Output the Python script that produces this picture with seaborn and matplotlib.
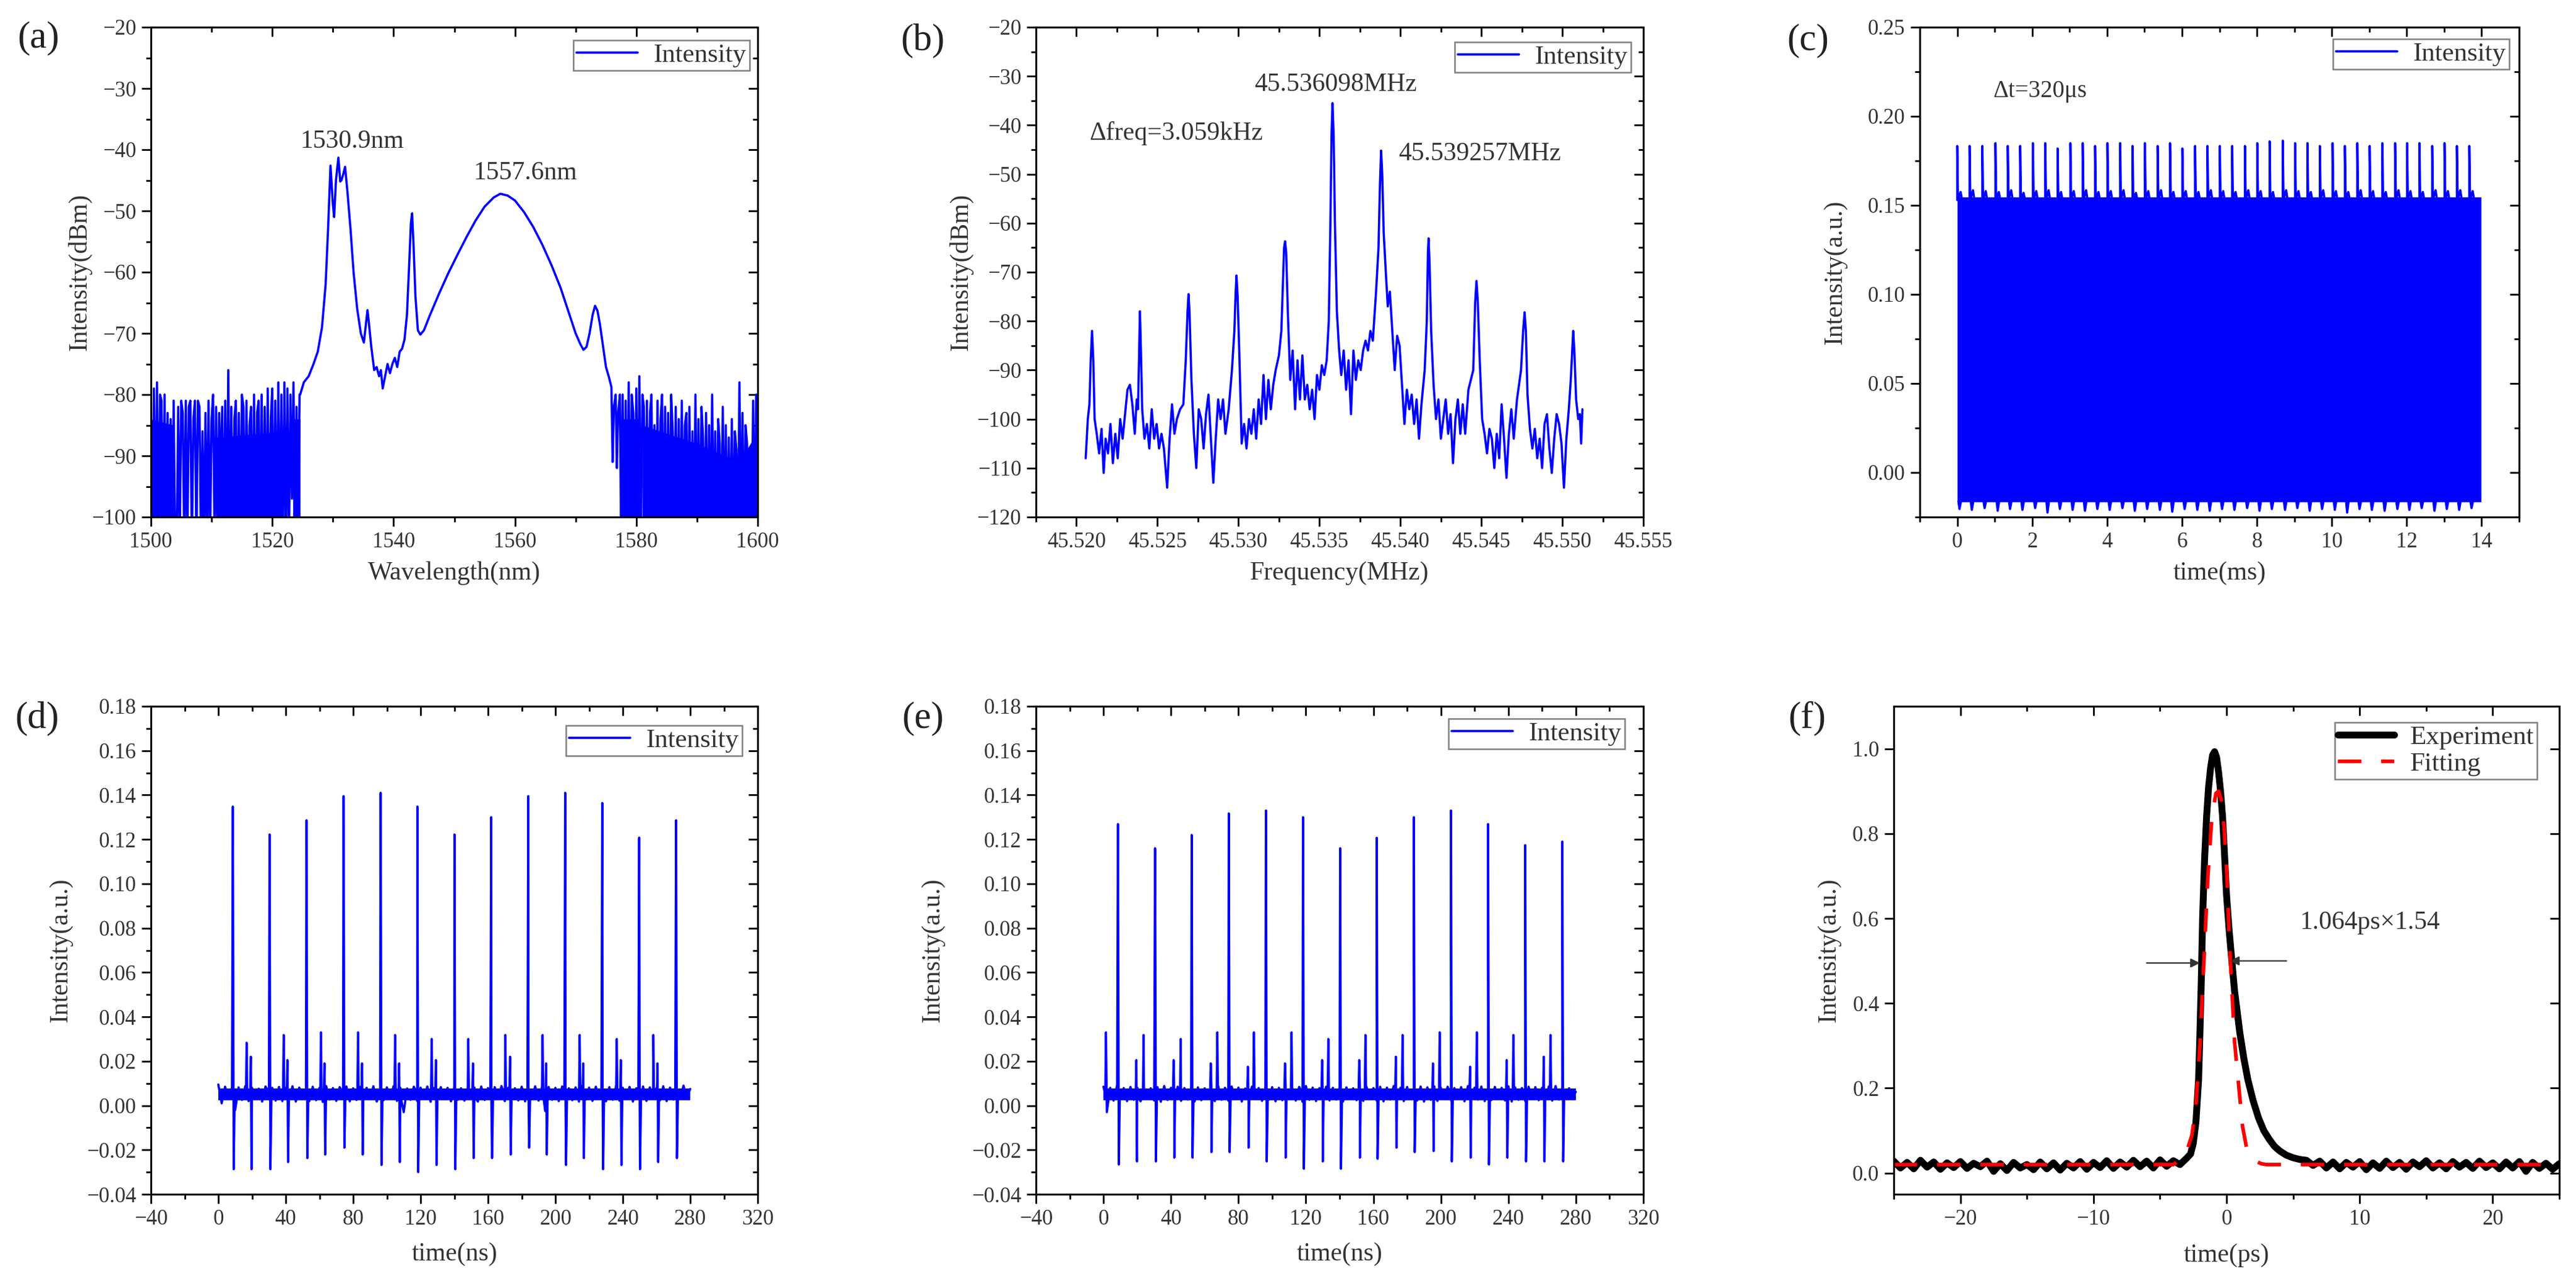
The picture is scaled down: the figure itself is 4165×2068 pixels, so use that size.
import numpy as np
import matplotlib
matplotlib.use("Agg")
import matplotlib.pyplot as plt
import seaborn as sns
from matplotlib.ticker import MultipleLocator, FuncFormatter

# ======================= DATA =======================
# ---- (a) optical spectrum ----
A_NOISE_STEP = 0.25
A_NOISE_L_START = 1500.0
A_NOISE_L = [-82, -105, -79, -105, -78, -105, -80, -81, -105, -80,
             -105, -83, -105, -84, -105, -81, -105, -105, -82, -105,
             -81, -83, -105, -81, -105, -82, -81, -105, -84, -81,
             -105, -81, -82, -105, -86, -105, -83, -105, -81, -105,
             -84, -80, -105, -82, -105, -83, -95, -82, -105, -81,
             -105, -76, -105, -82, -105, -84, -81, -105, -83, -105,
             -80, -82, -105, -81, -105, -85, -82, -105, -80, -105,
             -83, -81, -105, -80, -105, -82, -105, -79, -105, -84,
             -79, -105, -81, -105, -78, -105, -80, -105, -78, -105,
             -79, -105, -80, -97, -78, -105, -82, -105, -80]
A_FILL_L_X = [1500.0, 1503.8, 1503.8, 1510.8, 1510.8, 1521.9, 1521.9, 1523.4, 1523.4, 1524.6]
A_FILL_L_Y = [-84, -85, -100, -100, -87, -86, -100, -100, -84, -84]
A_MID_WL = [1524.6, 1525.2, 1526.0, 1526.8, 1527.5, 1528.2, 1528.8, 1529.2, 1529.6, 1530.0,
            1530.2, 1530.5, 1530.9, 1531.2, 1531.4, 1531.7, 1532.0, 1532.4, 1532.9, 1533.4,
            1534.0, 1534.6, 1535.1, 1535.5, 1535.7, 1535.9, 1536.3, 1536.8, 1537.2, 1537.6,
            1537.9, 1538.2, 1538.6, 1539.0, 1539.4, 1539.8, 1540.2, 1540.6, 1541.0, 1541.4,
            1541.8, 1542.2, 1542.6, 1542.85, 1543.05, 1543.3, 1543.6, 1544.0, 1544.4, 1545.0,
            1546.0, 1547.5, 1549.0, 1550.5, 1552.0, 1553.5, 1555.0, 1556.5, 1557.6, 1558.8,
            1560.0, 1561.5, 1563.0, 1564.5, 1566.0, 1567.5, 1569.0, 1570.0, 1570.8, 1571.3,
            1571.8, 1572.3, 1572.8, 1573.2, 1573.6, 1574.0, 1574.5, 1575.0, 1575.5, 1575.9,
            1576.1, 1576.3, 1576.6, 1576.8, 1577.0, 1577.3]
A_MID_DB = [-80, -78, -77, -75, -73, -69, -62, -53, -42.6, -49,
            -51, -45, -41.3, -45.2, -45, -44, -42.8, -47, -53, -60,
            -66, -70, -71.5, -68, -66.2, -68, -72, -76, -75.5, -77,
            -76, -79, -77, -75, -76.5, -75, -74, -75.5, -73, -72.5,
            -71, -67, -58, -52, -50.4, -56, -64, -69.5, -70.2, -69.5,
            -67, -63.5, -60.2, -57.2, -54.3, -51.6, -49.3, -47.8, -47.2, -47.5,
            -48.3, -50.2, -52.6, -55.5, -58.8, -62.5, -67, -70, -71.8, -72.7,
            -72.2, -70, -67, -65.5, -66.3, -68.5, -72, -75.5, -77.2, -78.8,
            -91, -82, -80, -92, -83, -80]
A_NOISE_R_START = 1577.5
A_NOISE_R = [-105, -80, -105, -81, -105, -78, -105, -80, -83, -105,
             -79, -105, -77, -105, -80, -82, -105, -81, -105, -83,
             -80, -105, -85, -105, -81, -105, -84, -80, -105, -82,
             -105, -83, -105, -80, -86, -105, -82, -105, -84, -105,
             -81, -105, -85, -83, -105, -82, -105, -86, -105, -80,
             -105, -84, -105, -82, -87, -105, -83, -105, -85, -105,
             -80, -105, -86, -105, -84, -88, -105, -82, -105, -85,
             -105, -87, -105, -84, -105, -86, -89, -105, -78, -105,
             -83, -105, -85, -88, -105, -90, -105, -81, -105, -80,
             -105]
A_FILL_R_X = [1577.6, 1580.5, 1580.5, 1581.0, 1581.0, 1590.0, 1597.0, 1600.0]
A_FILL_R_Y = [-84, -84, -100, -100, -85, -88, -91, -86]
A_TEXT = ["1530.9nm", "1557.6nm"]
A_TEXT_X = [1524.6, 1553.1]
A_TEXT_Y = [-38.7, -43.8]

# ---- (b) RF spectrum ----
B_FREQ = [45.52057, 45.52070, 45.52080, 45.52088, 45.52096, 45.52104, 45.52112, 45.52125, 45.52140, 45.52155,
          45.52168, 45.52180, 45.52195, 45.52210, 45.52225, 45.52240, 45.52255, 45.52270, 45.52285, 45.52300,
          45.52315, 45.52330, 45.52345, 45.52360, 45.52372, 45.52380, 45.52387, 45.52392, 45.52398, 45.52406,
          45.52420, 45.52435, 45.52450, 45.52465, 45.52480, 45.52495, 45.52510, 45.52525, 45.52540, 45.52560,
          45.52575, 45.52590, 45.52605, 45.52620, 45.52640, 45.52660, 45.52675, 45.52686, 45.52692, 45.52698,
          45.52710, 45.52725, 45.52740, 45.52755, 45.52770, 45.52785, 45.52800, 45.52815, 45.52830, 45.52845,
          45.52860, 45.52875, 45.52890, 45.52905, 45.52920, 45.52940, 45.52960, 45.52975, 45.52983, 45.52988,
          45.52995, 45.53005, 45.53020, 45.53035, 45.53050, 45.53065, 45.53080, 45.53095, 45.53110, 45.53125,
          45.53140, 45.53155, 45.53170, 45.53185, 45.53200, 45.53215, 45.53230, 45.53250, 45.53265, 45.53275,
          45.53282, 45.53288, 45.53295, 45.53305, 45.53320, 45.53335, 45.53350, 45.53365, 45.53380, 45.53395,
          45.53410, 45.53425, 45.53440, 45.53455, 45.53470, 45.53485, 45.53500, 45.53515, 45.53530, 45.53545,
          45.53558, 45.53568, 45.53575, 45.53581, 45.53588, 45.53596, 45.53608, 45.53622, 45.53635, 45.53650,
          45.53665, 45.53680, 45.53695, 45.53710, 45.53725, 45.53740, 45.53755, 45.53770, 45.53785, 45.53800,
          45.53815, 45.53830, 45.53850, 45.53865, 45.53874, 45.53881, 45.53888, 45.53897, 45.53910, 45.53922,
          45.53935, 45.53950, 45.53965, 45.53980, 45.53995, 45.54010, 45.54025, 45.54040, 45.54055, 45.54070,
          45.54085, 45.54100, 45.54115, 45.54130, 45.54150, 45.54163, 45.54170, 45.54174, 45.54180, 45.54190,
          45.54205, 45.54220, 45.54235, 45.54250, 45.54265, 45.54280, 45.54295, 45.54310, 45.54325, 45.54340,
          45.54355, 45.54370, 45.54385, 45.54400, 45.54420, 45.54450, 45.54462, 45.54470, 45.54478, 45.54490,
          45.54505, 45.54520, 45.54535, 45.54550, 45.54565, 45.54580, 45.54595, 45.54610, 45.54625, 45.54640,
          45.54655, 45.54670, 45.54685, 45.54700, 45.54720, 45.54745, 45.54758, 45.54767, 45.54775, 45.54785,
          45.54800, 45.54815, 45.54830, 45.54845, 45.54860, 45.54875, 45.54890, 45.54905, 45.54920, 45.54935,
          45.54950, 45.54965, 45.54980, 45.54995, 45.55010, 45.55025, 45.55040, 45.55052, 45.55061, 45.55067,
          45.55074, 45.55085, 45.55098, 45.55108, 45.55116, 45.55124]
B_DBM = [-108, -100, -97, -88, -82, -88, -100, -103, -107, -102,
         -111, -104, -107, -101, -109, -103, -108, -100, -104, -99,
         -94, -93, -97, -103, -96, -98, -86, -78, -86, -98,
         -104, -101, -106, -98, -104, -101, -106, -103, -106, -114,
         -104, -97, -103, -100, -98, -97, -88, -78, -74.5, -78,
         -92, -103, -110, -98, -100, -106, -99, -95, -104, -113,
         -104, -96, -100, -96, -103, -98, -90, -82, -74, -70.7,
         -75, -86, -105, -101, -106, -100, -103, -98, -104, -96,
         -101, -91, -100, -92, -98, -93, -90, -87, -82, -72,
         -65, -63.7, -66, -78, -92, -86, -98, -88, -96, -87,
         -96, -93, -98, -94, -100, -91, -94, -89, -91, -88,
         -80, -60, -42, -35.5, -42, -60, -78, -86, -91, -86,
         -94, -88, -99, -86, -92, -88, -90, -86, -84, -86,
         -82, -84, -74, -65, -52, -45.2, -50, -62, -70, -77,
         -74, -82, -90, -83, -85, -93, -101, -94, -98, -95,
         -101, -96, -104, -97, -90, -80, -66, -63.1, -68, -82,
         -93, -100, -96, -104, -100, -96, -103, -99, -109, -100,
         -96, -103, -97, -103, -94, -90, -76, -71.8, -76, -88,
         -100, -103, -107, -102, -104, -110, -103, -108, -97, -104,
         -112, -103, -98, -104, -96, -90, -82, -78.2, -82, -95,
         -102, -106, -102, -108, -104, -110, -101, -99, -106, -111,
         -104, -99, -101, -105, -114, -104, -98, -92, -86, -82,
         -86, -96, -100, -99, -105, -98]
B_TEXT = ["45.536098MHz", "45.539257MHz", "\u0394freq=3.059kHz"]
B_TEXT_X = [45.5310, 45.5399, 45.5208]
B_TEXT_Y = [-31.7, -45.9, -41.7]

# ---- (c) long pulse train ----
C_BLOCK_T = [0.0, 14.0]
C_BLOCK_LO = [-0.0165, -0.0165]
C_BLOCK_HI = [0.1545, 0.1545]
C_SPIKE_T = [0.00, 0.33, 0.67, 1.02, 1.35, 1.68, 2.02, 2.35, 2.68, 3.02,
             3.35, 3.68, 4.01, 4.35, 4.68, 5.01, 5.35, 5.68, 6.01, 6.35,
             6.68, 7.01, 7.34, 7.68, 8.01, 8.34, 8.69, 9.02, 9.35, 9.68,
             10.02, 10.35, 10.68, 11.01, 11.35, 11.69, 12.01, 12.34, 12.68, 13.01,
             13.34, 13.67]
C_SPIKE_H = [0.1833, 0.1833, 0.1833, 0.1849, 0.1833, 0.1833, 0.1849, 0.1849, 0.1819, 0.1849,
             0.1849, 0.1833, 0.1849, 0.1849, 0.1833, 0.1849, 0.1833, 0.1849, 0.1819, 0.1833,
             0.1833, 0.1833, 0.1833, 0.1833, 0.1849, 0.1859, 0.1863, 0.1849, 0.1849, 0.1833,
             0.1849, 0.1833, 0.1849, 0.1833, 0.1849, 0.1849, 0.1849, 0.1849, 0.1833, 0.1849,
             0.1833, 0.1833]
C_BUMP_H = [0.1575, 0.1585, 0.1580, 0.1575, 0.1585, 0.1570, 0.1580, 0.1585, 0.1575, 0.1580,
            0.1585, 0.1575, 0.1580, 0.1585, 0.1570, 0.1580, 0.1585, 0.1575, 0.1580, 0.1575,
            0.1585, 0.1580, 0.1575, 0.1585, 0.1580, 0.1575, 0.1585, 0.1580, 0.1575, 0.1585,
            0.1580, 0.1575, 0.1585, 0.1580, 0.1575, 0.1585, 0.1580, 0.1575, 0.1585, 0.1580,
            0.1585, 0.1580]
C_DIP = [-0.0205, -0.0210, -0.0200, -0.0215, -0.0205, -0.0210, -0.0200, -0.0225, -0.0205, -0.0210,
         -0.0215, -0.0205, -0.0210, -0.0200, -0.0215, -0.0205, -0.0210, -0.0220, -0.0205, -0.0210,
         -0.0215, -0.0205, -0.0210, -0.0200, -0.0215, -0.0205, -0.0210, -0.0200, -0.0215, -0.0205,
         -0.0210, -0.0225, -0.0205, -0.0210, -0.0215, -0.0205, -0.0210, -0.0200, -0.0215, -0.0205,
         -0.0210, -0.0200]
C_TEXT = "\u0394t=320\u03bcs"
C_TEXT_X, C_TEXT_Y = 0.95, 0.214

# ---- (d) pulse train ----
D_MAIN_T = [8.6, 30.4, 52.3, 74.3, 96.3, 118.1, 140.1, 161.9, 183.9, 205.8, 227.8, 249.7, 271.6]
D_MAIN_H = [0.1348, 0.1222, 0.1286, 0.1395, 0.1410, 0.1348, 0.1222, 0.1300, 0.1395, 0.1410, 0.1364, 0.1208, 0.1286]
D_MAIN_NEG = [-0.0287, -0.0287, -0.0237, -0.0190, -0.0268, -0.0300, -0.0287, -0.0237, -0.0190, -0.0268, -0.0287, -0.0287, -0.0237]
D_SEC1_T = [16.8, 38.8, 60.9, 82.9, 104.9, 126.6, 148.3, 170.3, 192.4, 214.4, 236.4, 258.1]
D_SEC1_H = [0.0283, 0.0318, 0.0330, 0.0330, 0.0318, 0.0300, 0.0300, 0.0318, 0.0318, 0.0318, 0.0300, 0.0318]
D_SEC2_T = [19.3, 41.0, 63.0, 85.3, 107.3, 129.1, 151.1, 173.1, 194.5, 216.5, 238.8, 260.6]
D_SEC2_H = [0.0220, 0.0205, 0.0190, 0.0190, 0.0190, 0.0205, 0.0190, 0.0220, 0.0190, 0.0190, 0.0205, 0.0190]
D_SEC2_NEG = [-0.0287, -0.0255, -0.0221, -0.0221, -0.0255, -0.0268, -0.0237, -0.0221, -0.0221, -0.0237, -0.0268, -0.0255]
D_BAND_T = [0.0, 280.0]
D_BAND_LO = [0.0024, 0.0024]
D_BAND_HI = [0.0076, 0.0076]
D_BASE = [0.0095, 0.0010, 0.0085, 0.0030, 0.0078, -0.0020, 0.0082, 0.0025, 0.0088, 0.0020,
          0.0080, 0.0030, 0.0076, 0.0018, 0.0086, 0.0028, 0.0080, 0.0022, 0.0084, 0.0020,
          0.0079, 0.0026, 0.0087, 0.0018, 0.0081, 0.0030, 0.0077, 0.0020, 0.0085, 0.0024,
          0.0080, 0.0016, 0.0088, 0.0027, 0.0079, 0.0021, 0.0083, 0.0029, 0.0086, 0.0019,
          0.0078, 0.0025, 0.0084, 0.0020, 0.0080, 0.0028, 0.0087, 0.0018, 0.0079, 0.0024,
          0.0082, 0.0030, 0.0088, 0.0021, 0.0080, -0.0030, 0.0077, 0.0026, 0.0085, 0.0020,
          0.0081, 0.0029, 0.0086, 0.0017, 0.0079, 0.0024, 0.0083, 0.0028, 0.0080, 0.0019,
          0.0087, 0.0026, 0.0078, 0.0022, 0.0084, 0.0030, 0.0081, 0.0018, 0.0086, 0.0025,
          0.0079, 0.0021, 0.0083, 0.0029, 0.0088, 0.0020, 0.0080, 0.0027, 0.0078, 0.0023,
          0.0085, 0.0019, 0.0081, 0.0028, 0.0087, 0.0022, 0.0079, -0.0025, 0.0084, 0.0026,
          0.0080, 0.0020, 0.0086, 0.0029, 0.0078, 0.0024, 0.0082, 0.0018, 0.0088, 0.0027,
          0.0081, 0.0021, 0.0085, 0.0030, 0.0079, 0.0019, 0.0083, 0.0026, 0.0087, 0.0022,
          0.0080, 0.0028, 0.0084, 0.0018, 0.0078, 0.0025, 0.0086, 0.0021, 0.0082, 0.0029,
          0.0079, 0.0023, 0.0087, 0.0020, 0.0081, 0.0027, 0.0085, 0.0030, 0.0090, 0.0035,
          0.0075]

# ---- (e) pulse train ----
E_MAIN_T = [8.6, 30.6, 52.3, 74.3, 96.3, 118.3, 140.3, 162.0, 184.0, 206.0, 228.0, 250.0, 272.0]
E_MAIN_H = [0.1269, 0.1160, 0.1220, 0.1317, 0.1330, 0.1300, 0.1160, 0.1207, 0.1300, 0.1330, 0.1269, 0.1174, 0.1190]
E_MAIN_NEG = [-0.0266, -0.0252, -0.0235, -0.0210, -0.0252, -0.0285, -0.0285, -0.0240, -0.0210, -0.0252, -0.0266, -0.0252, -0.0252]
E_PRE_T = [1.5, 23.8, 45.8, 67.5, 89.2, 111.5, 133.3, 155.3, 177.3, 199.3, 221.3, 243.0, 265.0]
E_PRE_H = [0.0330, 0.0318, 0.0300, 0.0330, 0.0330, 0.0330, 0.0300, 0.0318, 0.0318, 0.0330, 0.0330, 0.0318, 0.0318]
E_SEC_T = [19.5, 41.6, 63.6, 85.6, 107.6, 129.6, 151.6, 173.3, 195.3, 217.3, 239.0, 261.0]
E_SEC_H = [0.0205, 0.0205, 0.0190, 0.0175, 0.0190, 0.0205, 0.0205, 0.0220, 0.0190, 0.0175, 0.0205, 0.0220]
E_SEC_NEG = [-0.0252, -0.0235, -0.0210, -0.0190, -0.0235, -0.0252, -0.0235, -0.0190, -0.0205, -0.0235, -0.0235, -0.0252]
E_BAND_T = [0.0, 280.0]
E_BAND_LO = [0.0024, 0.0024]
E_BAND_HI = [0.0076, 0.0076]
E_BASE = [0.0085, -0.0030, 0.0080, 0.0022, 0.0087, 0.0028, 0.0079, 0.0020, 0.0084, 0.0026,
          0.0081, 0.0019, 0.0086, 0.0029, 0.0078, 0.0023, 0.0083, 0.0017, 0.0088, 0.0025,
          0.0080, 0.0030, 0.0085, 0.0021, 0.0079, 0.0027, 0.0087, 0.0018, 0.0082, 0.0024,
          0.0078, 0.0029, 0.0084, 0.0020, 0.0089, 0.0026, 0.0080, 0.0022, 0.0086, 0.0028,
          0.0081, 0.0018, 0.0077, 0.0025, 0.0085, 0.0030, 0.0079, 0.0021, 0.0087, 0.0027,
          0.0083, 0.0019, 0.0080, 0.0024, 0.0086, 0.0028, 0.0078, 0.0022, 0.0084, 0.0017,
          0.0088, 0.0026, 0.0081, 0.0020, 0.0079, 0.0029, 0.0085, 0.0023, 0.0080, 0.0027,
          0.0086, 0.0018, 0.0082, 0.0030, 0.0078, 0.0024, 0.0087, 0.0021, 0.0083, 0.0028,
          0.0079, 0.0022, 0.0085, 0.0019, 0.0081, 0.0027, 0.0088, 0.0025, 0.0080, 0.0020,
          0.0084, 0.0029, 0.0078, 0.0023, 0.0086, 0.0018, 0.0082, 0.0026, 0.0087, 0.0021,
          0.0080, 0.0028, 0.0085, 0.0024, 0.0079, 0.0030, 0.0083, 0.0019, 0.0088, 0.0022,
          0.0081, 0.0027, 0.0086, 0.0020, 0.0078, 0.0025, 0.0084, 0.0029, 0.0080, 0.0023,
          0.0087, 0.0018, 0.0082, 0.0026, 0.0079, 0.0021, 0.0085, 0.0028, 0.0083, 0.0024,
          0.0080, 0.0030, 0.0086, 0.0022, 0.0088, 0.0027, 0.0081, 0.0034, 0.0078, 0.0036,
          0.0062]

# ---- (f) autocorrelation ----
F_BL_L = [0.028, 0.012, 0.025, 0.010, 0.030, 0.014, 0.026, 0.009, 0.024, 0.013,
          0.027, 0.011, 0.023, 0.015, 0.028, 0.004, 0.022, 0.006, 0.025, 0.012,
          0.020, 0.008, 0.026, 0.010, 0.024, 0.007, 0.023, 0.012, 0.027, 0.009,
          0.025, 0.013, 0.029, 0.011, 0.026, 0.014, 0.030, 0.015, 0.028, 0.012,
          0.031, 0.016, 0.029, 0.020]
F_PK_T = [-3.0, -2.7, -2.5, -2.3, -2.1, -2.0, -1.9, -1.8, -1.65, -1.5,
          -1.35, -1.2, -1.05, -0.9, -0.75, -0.6, -0.45, -0.3, -0.15, 0.0,
          0.2, 0.4, 0.6, 0.8, 1.0, 1.3, 1.6, 2.0, 2.4, 2.8,
          3.2, 3.6, 4.0, 4.5, 5.0, 5.5]
F_PK_I = [0.035, 0.045, 0.07, 0.12, 0.22, 0.33, 0.45, 0.60, 0.74, 0.84,
          0.91, 0.955, 0.985, 0.993, 0.98, 0.945, 0.90, 0.84, 0.75, 0.655,
          0.57, 0.50, 0.43, 0.38, 0.33, 0.27, 0.22, 0.17, 0.13, 0.10,
          0.08, 0.063, 0.052, 0.042, 0.036, 0.032]
F_BL_R = [0.030, 0.018, 0.028, 0.012, 0.026, 0.010, 0.025, 0.014, 0.027, 0.008,
          0.024, 0.011, 0.028, 0.013, 0.025, 0.009, 0.026, 0.015, 0.029, 0.012,
          0.024, 0.010, 0.027, 0.014, 0.025, 0.011, 0.028, 0.013, 0.024, 0.010,
          0.026, 0.012, 0.027, 0.004, 0.025, 0.011, 0.023, 0.009, 0.022]
F_FIT_T = [-25.0, -4.0, -3.5, -3.0, -2.6, -2.3, -2.0, -1.7, -1.4, -1.1,
           -0.8, -0.6, -0.4, -0.2, 0.0, 0.2, 0.4, 0.6, 0.9, 1.2,
           1.5, 1.8, 2.2, 2.6, 3.0, 25.0]
F_FIT_I = [0.02, 0.02, 0.03, 0.05, 0.09, 0.16, 0.30, 0.50, 0.70, 0.84,
           0.895, 0.90, 0.88, 0.82, 0.72, 0.56, 0.43, 0.31, 0.21, 0.11,
           0.06, 0.04, 0.028, 0.022, 0.02, 0.02]
F_ARROW_FROM_X = [-6.0, 4.5]
F_ARROW_TO_X = [-2.0, 0.25]
F_ARROW_Y = [0.495, 0.500]
F_TEXT = "1.064ps\u00d71.54"
F_TEXT_X, F_TEXT_Y = 5.5, 0.59

# ======================= STYLE =======================
sns.set_style("ticks")
plt.rcParams['font.family'] = ['Liberation Serif', 'DejaVu Serif']
plt.rcParams['axes.unicode_minus'] = True

W, H = 4165, 2068
fig = plt.figure(figsize=(W / 100, H / 100), dpi=100)
BLUE = '#0000FF'
TXT = '#333333'
LW = 2.6
TICK_FS = 25
LABEL_FS = 30
LEG_FS = 31
ANN_FS = 30


def place(l, t, r, b):
    return fig.add_axes([l / W, 1 - b / H, (r - l) / W, (b - t) / H])


def fmt(dec):
    def f(v, p):
        s = f"{v:.{dec}f}"
        if float(s) == 0:
            s = f"{0:.{dec}f}"
        return s.replace('-', '\u2212')
    return FuncFormatter(f)


def style(ax, xlim, ylim, xmaj, xmin, ymaj, ymin, xdec, ydec):
    ax.set_xlim(*xlim)
    ax.set_ylim(*ylim)
    ax.xaxis.set_major_locator(MultipleLocator(xmaj))
    ax.yaxis.set_major_locator(MultipleLocator(ymaj))
    if xmin:
        ax.xaxis.set_minor_locator(MultipleLocator(xmin))
    if ymin:
        ax.yaxis.set_minor_locator(MultipleLocator(ymin))
    ax.xaxis.set_major_formatter(fmt(xdec))
    ax.yaxis.set_major_formatter(fmt(ydec))
    ax.tick_params(which='both', direction='out', top=False, right=False,
                   width=2, color='black', labelcolor=TXT, labelsize=TICK_FS, pad=6)
    ax.tick_params(which='major', length=11)
    ax.tick_params(which='minor', length=6)
    for s in ax.spines.values():
        s.set_visible(True)
        s.set_linewidth(2.2)
        s.set_color('black')
    top = ax.secondary_xaxis('top')
    top.xaxis.set_major_locator(MultipleLocator(xmaj))
    if xmin:
        top.xaxis.set_minor_locator(MultipleLocator(xmin))
    top.tick_params(which='both', direction='in', labeltop=False, labelbottom=False, width=2, color='black')
    top.tick_params(which='major', length=11)
    top.tick_params(which='minor', length=6)
    top.spines['top'].set_linewidth(2.2)
    right = ax.secondary_yaxis('right')
    right.yaxis.set_major_locator(MultipleLocator(ymaj))
    if ymin:
        right.yaxis.set_minor_locator(MultipleLocator(ymin))
    right.tick_params(which='both', direction='in', labelright=False, labelleft=False, width=2, color='black')
    right.tick_params(which='major', length=11)
    right.tick_params(which='minor', length=6)
    right.spines['right'].set_linewidth(2.2)


def labels(ax, xl, yl, xl_y, yl_x):
    ax.set_xlabel(xl, fontsize=LABEL_FS, color=TXT)
    ax.set_ylabel(yl, fontsize=LABEL_FS, color=TXT)
    ax.xaxis.set_label_coords(0.5, xl_y)
    ax.yaxis.set_label_coords(yl_x, 0.5)
    ax.xaxis.label.set_va('center')
    ax.yaxis.label.set_va('center')
    ax.yaxis.label.set_ha('center')


def legend(ax, anchor, hl=2.3):
    leg = ax.legend(loc='upper right', bbox_to_anchor=anchor, borderaxespad=0,
                    frameon=True, fancybox=False, framealpha=1, edgecolor='#808080',
                    fontsize=LEG_FS, handlelength=hl, handletextpad=0.6, borderpad=0.12,
                    labelspacing=0.08)
    leg.get_frame().set_linewidth(1.8)
    for t in leg.get_texts():
        t.set_color(TXT)


def panel_label(s, x, y):
    fig.text(x / W, 1 - y / H, s, fontsize=44, ha='center', va='center', color='#222222')


def pulse_trace(base, t_end, events):
    bx = np.linspace(0, t_end, len(base))
    xs = list(bx)
    ys = list(base)
    for ex, ey in events:
        xs.extend(ex)
        ys.extend(ey)
    order = np.argsort(np.asarray(xs), kind='mergesort')
    return np.asarray(xs)[order], np.asarray(ys)[order]


# ======================= (a) =======================
ax = place(244, 44, 1225, 836)
ax.fill_between(A_FILL_L_X, -100, A_FILL_L_Y, color=BLUE, lw=0)
ax.fill_between(A_FILL_R_X, -100, A_FILL_R_Y, color=BLUE, lw=0)
a_x = np.concatenate([A_NOISE_L_START + A_NOISE_STEP * np.arange(len(A_NOISE_L)),
                      np.asarray(A_MID_WL),
                      A_NOISE_R_START + A_NOISE_STEP * np.arange(len(A_NOISE_R))])
a_y = np.concatenate([A_NOISE_L, A_MID_DB, A_NOISE_R])
sns.lineplot(x=a_x, y=a_y, ax=ax, color=BLUE, linewidth=LW, label='Intensity', sort=False, estimator=None)
style(ax, (1500, 1600), (-100, -20), 20, 10, 10, 5, 0, 0)
labels(ax, 'Wavelength(nm)', 'Intensity(dBm)', -0.115, -0.117)
legend(ax, (1 - 13 / 981, 1 - 21 / 792))
for s, x, y in zip(A_TEXT, A_TEXT_X, A_TEXT_Y):
    ax.text(x, y, s, fontsize=ANN_FS, color=TXT, ha='left', va='center')
panel_label('(a)', 62, 62)

# ======================= (b) =======================
ax = place(1675, 44, 2657, 836)
n = min(len(B_FREQ), len(B_DBM))
sns.lineplot(x=np.asarray(B_FREQ[:n]), y=np.asarray(B_DBM[:n]), ax=ax, color=BLUE, linewidth=LW,
             label='Intensity', sort=False, estimator=None)
style(ax, (45.5175, 45.555), (-120, -20), 0.005, 0.0025, 10, 5, 3, 0)
labels(ax, 'Frequency(MHz)', 'Intensity(dBm)', -0.115, -0.123)
legend(ax, (1 - 20 / 982, 1 - 24 / 792))
for s, x, y in zip(B_TEXT, B_TEXT_X, B_TEXT_Y):
    ax.text(x, y, s, fontsize=ANN_FS, color=TXT, ha='left', va='center')
panel_label('(b)', 1492, 66)

# ======================= (c) =======================
ax = place(3104, 44, 4073, 836)
ax.fill_between(C_BLOCK_T, C_BLOCK_LO, C_BLOCK_HI, color=BLUE, lw=0)
top_x, top_y, bot_x, bot_y = [], [], [], []
for t, h, bmp, dp in zip(C_SPIKE_T, C_SPIKE_H, C_BUMP_H, C_DIP):
    top_x += [t, t, t + 0.02, t + 0.09, t + 0.13]
    top_y += [0.153, h, 0.153, bmp, 0.153]
    bot_x += [t + 0.03, t + 0.06, t + 0.10]
    bot_y += [-0.016, dp, -0.016]
sns.lineplot(x=np.asarray(top_x), y=np.asarray(top_y), ax=ax, color=BLUE, linewidth=LW,
             label='Intensity', sort=False, estimator=None)
sns.lineplot(x=np.asarray(bot_x), y=np.asarray(bot_y), ax=ax, color=BLUE, linewidth=LW,
             sort=False, estimator=None)
style(ax, (-1, 15), (-0.025, 0.25), 2, 1, 0.05, 0.025, 0, 2)
labels(ax, 'time(ms)', 'Intensity(a.u.)', -0.115, -0.141)
legend(ax, (1 - 16 / 969, 1 - 19 / 792))
ax.text(C_TEXT_X, C_TEXT_Y, C_TEXT, fontsize=ANN_FS - 2, color=TXT, ha='left', va='center')
panel_label('(c)', 2923, 66)

# ======================= (d) =======================
ax = place(244, 1142, 1225, 1931)
ax.fill_between(D_BAND_T, D_BAND_LO, D_BAND_HI, color=BLUE, lw=0)
ev = []
for t, h, ng in zip(D_MAIN_T, D_MAIN_H, D_MAIN_NEG):
    ev.append(([t - 0.5, t, t + 0.5, t + 1.1], [0.006, h, ng, 0.004]))
for t, h in zip(D_SEC1_T, D_SEC1_H):
    ev.append(([t - 0.4, t, t + 0.4], [0.005, h, 0.004]))
for t, h, ng in zip(D_SEC2_T, D_SEC2_H, D_SEC2_NEG):
    ev.append(([t - 0.4, t, t + 0.4, t + 0.9], [0.005, h, ng, 0.004]))
dx, dy = pulse_trace(D_BASE, 280, ev)
sns.lineplot(x=dx, y=dy, ax=ax, color=BLUE, linewidth=LW, label='Intensity', sort=False, estimator=None)
style(ax, (-40, 320), (-0.04, 0.18), 40, 20, 0.02, 0.01, 0, 2)
labels(ax, 'time(ns)', 'Intensity(a.u.)', -0.122, -0.149)
legend(ax, (1 - 25 / 981, 1 - 31 / 789))
panel_label('(d)', 60, 1162)

# ======================= (e) =======================
ax = place(1675, 1142, 2657, 1931)
ax.fill_between(E_BAND_T, E_BAND_LO, E_BAND_HI, color=BLUE, lw=0)
ev = []
for t, h, ng in zip(E_MAIN_T, E_MAIN_H, E_MAIN_NEG):
    ev.append(([t - 0.5, t, t + 0.5, t + 1.1], [0.006, h, ng, 0.004]))
for t, h in zip(E_PRE_T, E_PRE_H):
    ev.append(([t - 0.4, t, t + 0.4], [0.005, h, 0.004]))
for t, h, ng in zip(E_SEC_T, E_SEC_H, E_SEC_NEG):
    ev.append(([t - 0.4, t, t + 0.4, t + 0.9], [0.005, h, ng, 0.004]))
ex, ey = pulse_trace(E_BASE, 280, ev)
sns.lineplot(x=ex, y=ey, ax=ax, color=BLUE, linewidth=LW, label='Intensity', sort=False, estimator=None)
style(ax, (-40, 320), (-0.04, 0.18), 40, 20, 0.02, 0.01, 0, 2)
labels(ax, 'time(ns)', 'Intensity(a.u.)', -0.122, -0.170)
legend(ax, (1 - 30 / 982, 1 - 20 / 789))
panel_label('(e)', 1492, 1162)

# ======================= (f) =======================
ax = place(3062, 1142, 4138, 1931)
f_x = np.concatenate([np.linspace(-25, -3.5, len(F_BL_L)), np.asarray(F_PK_T),
                      np.linspace(6, 25, len(F_BL_R))])
f_y = np.concatenate([F_BL_L, F_PK_I, F_BL_R])
sns.lineplot(x=f_x, y=f_y, ax=ax, color='black', linewidth=8, label='Experiment', sort=False, estimator=None)
sns.lineplot(x=np.asarray(F_FIT_T), y=np.asarray(F_FIT_I), ax=ax, color='#FF0000', linewidth=4.2,
             label='Fitting', sort=False, estimator=None)
ax.lines[-1].set_linestyle((0, (6.5, 5.5)))
for x0, x1, y in zip(F_ARROW_FROM_X, F_ARROW_TO_X, F_ARROW_Y):
    ax.annotate('', xy=(x1, y), xytext=(x0, y),
                arrowprops=dict(arrowstyle='-|>', color='#333333', lw=1.6, mutation_scale=22,
                                shrinkA=0, shrinkB=0))
ax.text(F_TEXT_X, F_TEXT_Y, F_TEXT, fontsize=ANN_FS, color=TXT, ha='left', va='center')
style(ax, (-25, 25), (-0.05, 1.1), 10, 5, 0.2, None, 0, 1)
labels(ax, 'time(ps)', 'Intensity(a.u.)', -0.125, -0.0976)
legend(ax, (1 - 36 / 1076, 1 - 26 / 789), hl=2.1)
panel_label('(f)', 2922, 1162)

fig.savefig('out.png', dpi=100, facecolor='white')
